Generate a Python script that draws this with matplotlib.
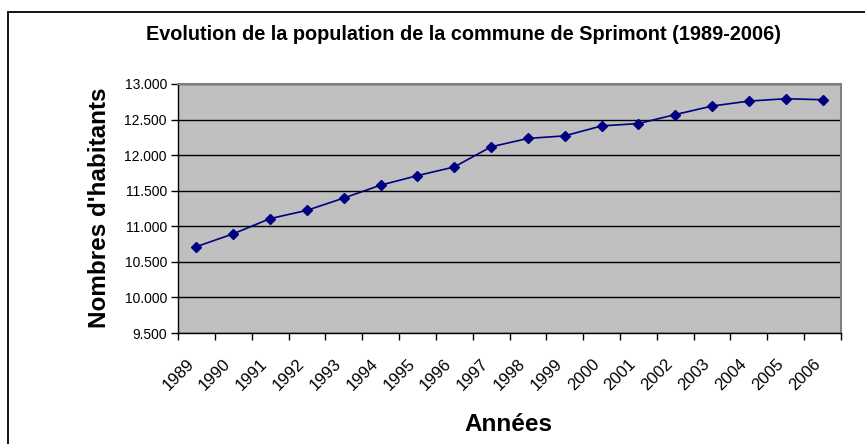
import matplotlib.pyplot as plt
from matplotlib.patches import Rectangle
from matplotlib.ticker import FuncFormatter, FixedLocator

years = [str(y) for y in range(1989, 2007)]
habitants = [10714, 10894, 11108, 11224, 11397, 11578, 11712, 11834, 12117,
             12235, 12271, 12411, 12444, 12570, 12690, 12760, 12793, 12779]
y_ticks = [9500, 10000, 10500, 11000, 11500, 12000, 12500, 13000]

W, H = 865, 444
fig = plt.figure(figsize=(W / 100, H / 100), dpi=100)
plt.rcParams["font.family"] = ["Liberation Sans", "DejaVu Sans"]

# chart frame (left and top edges visible, rest is cropped)
fig.patches.append(
    Rectangle((8 / W, -0.1), 1.2, 1.1 - 12 / H,
              transform=fig.transFigure, fill=False,
              edgecolor="black", linewidth=1.3)
)

ax = fig.add_axes([178 / W, 1 - 333 / H, (841 - 178) / W, (333 - 84) / H])
ax.set_facecolor("#C0C0C0")

x = list(range(len(years)))
ax.plot(x, habitants, color="#000080", marker="D", markersize=5,
        linewidth=1.2)

ax.set_xlim(-0.5, len(years) - 0.5)
ax.set_ylim(y_ticks[0], y_ticks[-1])
ax.set_yticks(y_ticks)
ax.yaxis.set_major_formatter(
    FuncFormatter(lambda v, p: f"{int(v):,}".replace(",", "."))
)
ax.grid(axis="y", color="black", linewidth=1)
ax.set_axisbelow(True)

# ticks between categories, labels on category centers
ax.xaxis.set_major_locator(FixedLocator([i - 0.5 for i in range(len(years) + 1)]))
ax.set_xticklabels([])
ax.tick_params(axis="x", length=5, width=1, color="black")
ax.tick_params(axis="y", length=5, width=1, color="black", labelsize=10, pad=3)
for i, label in enumerate(years):
    ax.annotate(label, (i, y_ticks[0]), xycoords="data",
                xytext=(-3.5, -20.5), textcoords="offset points",
                rotation=45, ha="right", va="center", rotation_mode="anchor",
                fontsize=12)

for side in ["top", "right"]:
    ax.spines[side].set_color("#808080")
    ax.spines[side].set_linewidth(1.5)
for side in ["left", "bottom"]:
    ax.spines[side].set_color("black")
    ax.spines[side].set_linewidth(1)

fig.text(463 / W, 1 - 35 / H,
         "Evolution de la population de la commune de Sprimont (1989-2006)",
         ha="center", va="center", fontsize=14.3, fontweight="bold")
fig.text(100 / W, 1 - 208 / H, "Nombres d'habitants", rotation=90,
         ha="center", va="center", fontsize=17.5, fontweight="bold")
fig.text(508 / W, 1 - 424 / H, "Années", ha="center", va="center",
         fontsize=17.5, fontweight="bold")

fig.savefig("out.png", dpi=100)
